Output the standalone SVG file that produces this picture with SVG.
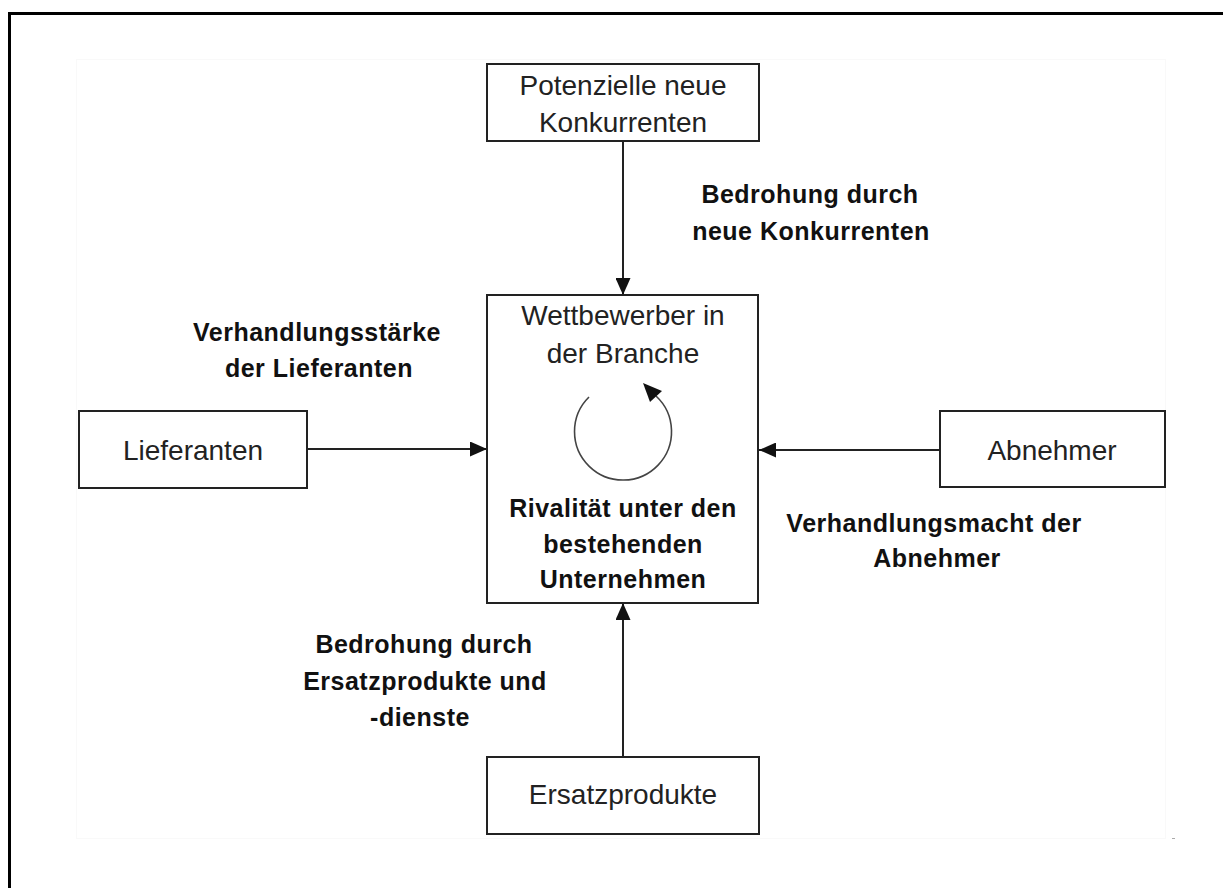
<svg xmlns="http://www.w3.org/2000/svg" width="1223" height="888" viewBox="0 0 1223 888">
  <style>
    .box { fill: #ffffff; stroke: #222222; stroke-width: 2; }
    .label { font-family: "Liberation Sans", Arial, sans-serif; font-size: 28px; fill: #222222; text-anchor: middle; }
    .bold { font-family: "Liberation Sans", Arial, sans-serif; font-size: 25px; font-weight: bold; fill: #111111; text-anchor: middle; letter-spacing: 0.5px; }
    .edge { stroke: #222222; stroke-width: 2; fill: none; }
  </style>
  <defs>
    <marker id="arrow" viewBox="0 0 17 15" refX="17" refY="7.5" markerWidth="17" markerHeight="15" markerUnits="userSpaceOnUse" orient="auto">
      <path d="M0,0 L17,7.5 L0,15 Z" fill="#111111"/>
    </marker>
  </defs>

  <!-- page background and frame -->
  <rect x="0" y="0" width="1223" height="888" fill="#ffffff"/>
  <path d="M9.5,888 V13.5 H1223" fill="none" stroke="#000000" stroke-width="3"/>
  <rect x="76.5" y="59.5" width="1089" height="779" fill="#ffffff" stroke="#f9f9f9" stroke-width="1"/>
  <rect x="1172" y="838" width="3" height="1" fill="#aaaaaa"/>

  <!-- connectors -->
  <g id="connectors">
    <line class="edge" x1="623" y1="141" x2="623" y2="295" marker-end="url(#arrow)"/>
    <line class="edge" x1="307" y1="449" x2="487" y2="449" marker-end="url(#arrow)"/>
    <line class="edge" x1="940" y1="450" x2="759" y2="450" marker-end="url(#arrow)"/>
    <line class="edge" x1="623" y1="757" x2="623" y2="603" marker-end="url(#arrow)"/>
  </g>

  <!-- top: new competitors -->
  <g id="node-neue-konkurrenten">
    <rect class="box" x="487" y="64" width="272" height="77"/>
    <text class="label" x="623" y="95">Potenzielle neue</text>
    <text class="label" x="623" y="132">Konkurrenten</text>
  </g>

  <!-- centre: industry competitors -->
  <g id="node-wettbewerber">
    <rect class="box" x="487" y="295" width="271" height="308"/>
    <text class="label" x="623" y="325">Wettbewerber in</text>
    <text class="label" x="623" y="363">der Branche</text>
    <path d="M589,397 A48.5,48.5 0 1 0 656,396" fill="none" stroke="#444444" stroke-width="1.6"/>
    <polygon points="643,383 662,391 650,402" fill="#111111"/>
    <text class="bold" x="623" y="517">Rivalität unter den</text>
    <text class="bold" x="623" y="553">bestehenden</text>
    <text class="bold" x="623" y="588">Unternehmen</text>
  </g>

  <!-- left: suppliers -->
  <g id="node-lieferanten">
    <rect class="box" x="79" y="411" width="228" height="77"/>
    <text class="label" x="193" y="460">Lieferanten</text>
  </g>

  <!-- right: buyers -->
  <g id="node-abnehmer">
    <rect class="box" x="940" y="411" width="225" height="76"/>
    <text class="label" x="1052" y="460">Abnehmer</text>
  </g>

  <!-- bottom: substitutes -->
  <g id="node-ersatzprodukte">
    <rect class="box" x="487" y="757" width="272" height="77"/>
    <text class="label" x="623" y="804">Ersatzprodukte</text>
  </g>

  <!-- force labels -->
  <g id="label-neue-konkurrenten">
    <text class="bold" x="810" y="203">Bedrohung durch</text>
    <text class="bold" x="811" y="240">neue Konkurrenten</text>
  </g>
  <g id="label-lieferanten">
    <text class="bold" x="317" y="341">Verhandlungsstärke</text>
    <text class="bold" x="319" y="377">der Lieferanten</text>
  </g>
  <g id="label-abnehmer">
    <text class="bold" x="934" y="532">Verhandlungsmacht der</text>
    <text class="bold" x="937" y="567">Abnehmer</text>
  </g>
  <g id="label-ersatzprodukte">
    <text class="bold" x="424" y="653">Bedrohung durch</text>
    <text class="bold" x="425" y="690">Ersatzprodukte und</text>
    <text class="bold" x="420" y="726">-dienste</text>
  </g>
</svg>
